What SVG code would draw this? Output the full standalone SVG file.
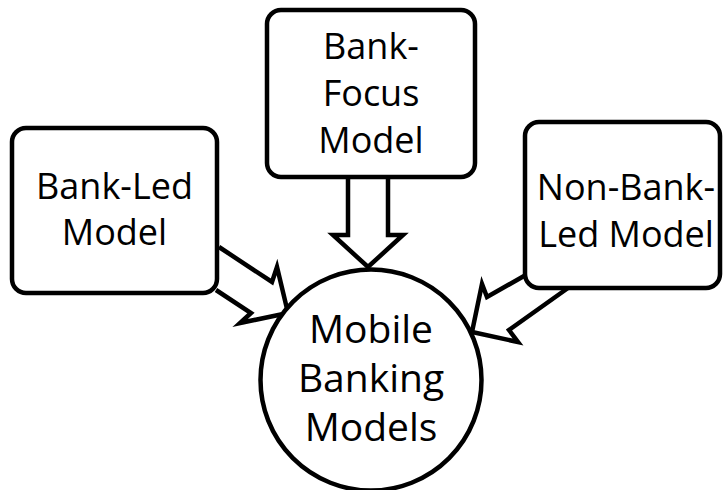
<svg xmlns="http://www.w3.org/2000/svg" width="723" height="490" viewBox="0 0 723 490">
<style>
.shape{fill:#fff;stroke:#000;stroke-width:4.5;stroke-linejoin:miter}
.arrow{fill:#fff;stroke:#000;stroke-width:4.5;stroke-linejoin:miter;stroke-miterlimit:10}
.lbl{font-family:"Open Sans","Noto Sans","Liberation Sans",sans-serif;font-size:36px;fill:#000;text-anchor:middle}
.big{font-size:39px}
</style>
<rect width="723" height="490" fill="#fff"/>
<g id="connectors">
<path class="arrow" d="M348,175 V235 H333 L368,267 L403,235 H388 V175"/>
<path class="arrow" d="M219,247 L272,282 L277,267 L288,313 L240,323 L251,313 L216,290"/>
<path class="arrow" d="M524,276 L487,297 L482,284 L472,332 L518,342 L509,330 L568,288"/>
</g>
<g id="bank-focus">
<rect class="shape" x="267" y="10" width="208" height="167" rx="14"/>
<text class="lbl" x="371" y="59">Bank-</text>
<text class="lbl" x="371" y="106">Focus</text>
<text class="lbl" x="371" y="153">Model</text>
</g>
<g id="bank-led">
<rect class="shape" x="12" y="128" width="205" height="165" rx="14"/>
<text class="lbl" x="114.5" y="199">Bank-Led</text>
<text class="lbl" x="114.5" y="245">Model</text>
</g>
<g id="non-bank-led">
<rect class="shape" x="525" y="122" width="195" height="166" rx="14"/>
<text class="lbl" x="626" y="200">Non-Bank-</text>
<text class="lbl" x="626" y="247">Led Model</text>
</g>
<g id="mobile-banking">
<circle class="shape" cx="371" cy="380" r="110.5"/>
<text class="lbl big" x="371" y="343">Mobile</text>
<text class="lbl big" x="371" y="392">Banking</text>
<text class="lbl big" x="371" y="441">Models</text>
</g>
</svg>
